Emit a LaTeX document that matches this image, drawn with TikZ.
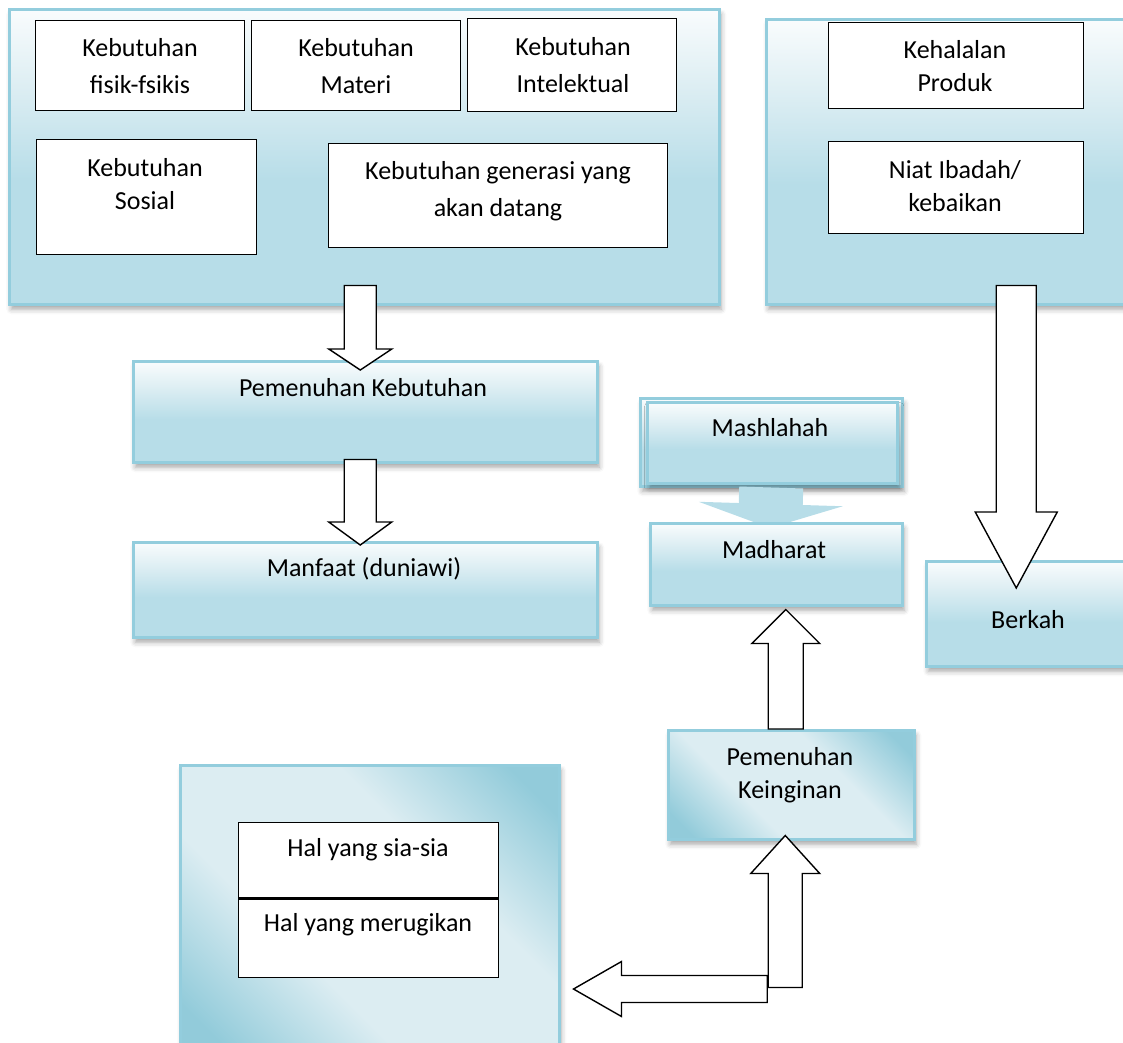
\documentclass[tikz,border=0pt]{standalone}
\usepackage{fontspec}
\setmainfont{Carlito}
\usetikzlibrary{calc,shadows.blur}

% Colors
\definecolor{rim}{RGB}{147,205,221}        % panel border
\definecolor{fadeblue}{RGB}{183,221,232}   % gradient bottom
\definecolor{fadepale}{RGB}{221,238,243}   % gradient middle
\definecolor{fadetop}{RGB}{249,252,253}    % gradient top
\definecolor{glossdark}{RGB}{146,203,218}  % diagonal dark
\definecolor{glosslight}{RGB}{220,237,242} % diagonal light

\pgfdeclareverticalshading{wordfade}{100bp}{color(0bp)=(fadeblue); color(25bp)=(fadeblue); color(46bp)=(fadeblue); color(62bp)=(fadepale); color(75bp)=(fadetop); color(100bp)=(fadetop)}
\pgfdeclareverticalshading{gloss}{100bp}{color(0bp)=(glossdark); color(20bp)=(glossdark); color(38bp)=(glosslight); color(62bp)=(glosslight); color(80bp)=(glossdark); color(100bp)=(glossdark)}

% block arrow: [style] start, tip, half shaft, half head, head length
\newcommand{\blockarrow}[6][arrowblock]{%
  \coordinate (bah) at ($(#3)!#6!(#2)$);
  \draw[#1] ($(#2)!#4!90:(#3)$) -- ($(bah)!#4!90:(#3)$) -- ($(bah)!#5!90:(#3)$) -- (#3)
    -- ($(bah)!#5!-90:(#3)$) -- ($(bah)!#4!-90:(#3)$) -- ($(#2)!#4!-90:(#3)$) -- cycle;
}

\begin{document}
\begin{tikzpicture}[x=1pt, y=-1pt,
  softshadow/.style={blur shadow={shadow xshift=2pt, shadow yshift=-5pt, shadow blur radius=5pt, shadow opacity=35}},
  panel/.style={draw=rim, line width=2.5pt, shade, shading=wordfade, anchor=north west, inner sep=0pt, softshadow},
  glossy/.style={draw=rim, line width=2.5pt, shade, shading=gloss, shading angle=-45, anchor=north west, inner sep=0pt, softshadow},
  whitebox/.style={draw=black, fill=white, line width=1.4pt, anchor=north west, inner sep=0pt},
  boxtext/.style={font=\fontsize{26}{33}\selectfont, align=center, inner sep=0pt},
  widetext/.style={boxtext, font=\fontsize{26}{37}\selectfont},
  arrowblock/.style={draw=black, fill=white, line width=1.4pt, line join=miter},
  softarrow/.style={fill=fadeblue, draw=none}]

\useasboundingbox (0,0) rectangle (1123,1042);
\clip (0,0) rectangle (1123,1042);

% === Kebutuhan ===
\node[panel, minimum width=710pt, minimum height=295pt] (needs) at (8,8) {};
\node[whitebox, minimum width=209pt, minimum height=90pt] (fisik) at (35,20) {};
\node[whitebox, minimum width=209pt, minimum height=90pt] (materi) at (251,20) {};
\node[whitebox, minimum width=209pt, minimum height=93pt] (intel) at (467,18) {};
\node[whitebox, minimum width=220pt, minimum height=115pt] (sosial) at (36,139) {};
\node[whitebox, minimum width=339pt, minimum height=104pt] (generasi) at (328,143) {};
\node[widetext] (fisikt) at (140,66) {Kebutuhan\\fisik-fsikis};
\node[widetext] (materit) at (356,66) {Kebutuhan\\Materi};
\node[widetext] (intelt) at (573,65) {Kebutuhan\\Intelektual};
\node[boxtext] (sosialt) at (145,184) {Kebutuhan\\Sosial};
\node[widetext] (generasit) at (498,191) {Kebutuhan generasi yang\\akan datang};

% === Etika ===
\node[panel, minimum width=370pt, minimum height=285pt] (etika) at (765,18) {};
\node[whitebox, minimum width=255pt, minimum height=86pt] (halal) at (828,22) {};
\node[whitebox, minimum width=255pt, minimum height=92pt] (niat) at (828,141) {};
\node[boxtext] (halalt) at (955,66) {Kehalalan\\Produk};
\node[boxtext] (niatt) at (955,186) {Niat Ibadah/\\kebaikan};

% === Pemenuhan Kebutuhan ===
\node[panel, minimum width=464pt, minimum height=101pt] (pk) at (132,360) {};
\node[boxtext] (pkt) at (363,388) {Pemenuhan Kebutuhan};
\node[panel, minimum width=464pt, minimum height=95pt] (mf) at (132,541) {};
\node[boxtext] (mft) at (364,569) {Manfaat (duniawi)};

\coordinate (a1s) at ([xshift=-4pt,yshift=20pt]needs.south);
\coordinate (a1t) at ([xshift=-5pt,yshift=-10pt]pk.north);
\blockarrow{a1s}{a1t}{16pt}{31.5pt}{21pt}
\coordinate (a2s) at ([xshift=-5pt,yshift=4pt]pk.south);
\coordinate (a2t) at ([xshift=-5pt,yshift=-4pt]mf.north);
\blockarrow{a2s}{a2t}{16pt}{31.5pt}{23pt}

% === Berkah ===
\node[panel, minimum width=206pt, minimum height=105pt] (berkah) at (925,560) {};
\node[boxtext] (berkaht) at (1028,620) {Berkah};
\coordinate (a3s) at ([xshift=65pt,yshift=20pt]etika.south);
\coordinate (a3t) at ([xshift=-13pt,yshift=-28pt]berkah.north);
\blockarrow{a3s}{a3t}{20pt}{41pt}{76pt}

% === Mashlahah / Madharat ===
\node[panel, minimum width=262pt, minimum height=88pt] (mas) at (639,397) {};
\node[panel, minimum width=250pt, minimum height=81pt] (masin) at (646,401) {};
\node[boxtext] (mast) at (770,428) {Mashlahah};
\coordinate (a4t) at (770,528);
\blockarrow[softarrow]{mas.south}{a4t}{32pt}{72pt}{24pt}
\node[panel, minimum width=252pt, minimum height=82pt] (mad) at (649,522) {};
\node[boxtext] (madt) at (774,550) {Madharat};

% === Pemenuhan Keinginan ===
\node[glossy, minimum width=246pt, minimum height=109pt] (kein) at (667,729) {};
\node[boxtext] (keint) at (790,775) {Pemenuhan\\Keinginan};
\coordinate (a5s) at ([xshift=-5.5pt]kein.north);
\coordinate (a5t) at ([xshift=9.5pt,yshift=-3pt]mad.south);
\blockarrow{a5s}{a5t}{17.5pt}{34pt}{34pt}

% === Hal ===
\node[glossy, minimum width=379pt, minimum height=290pt] (waste) at (179,764) {};
\node[whitebox, minimum width=260pt, minimum height=75pt] (sia) at (238,822) {};
\node[whitebox, minimum width=260pt, minimum height=80pt] (rugi) at (238,897) {};
\draw[line width=2.8pt] (sia.south west) -- (sia.south east);
\node[boxtext] (siat) at (368,850) {Hal yang sia-sia};
\node[boxtext] (rugit) at (368,925) {Hal yang merugikan};

\coordinate (a6s) at ([xshift=-6pt,yshift=-147pt]kein.south);
\coordinate (a6t) at ([xshift=-6pt,yshift=5pt]kein.south);
\coordinate (a7s) at ([xshift=-18pt,yshift=-1.5pt]a6s);
\coordinate (a7t) at ([xshift=13pt]a7s -| waste.east);
\blockarrow{a7s}{a7t}{13.5pt}{27.5pt}{48pt}
\blockarrow{a6s}{a6t}{17pt}{34.5pt}{38pt}

\end{tikzpicture}
\end{document}
